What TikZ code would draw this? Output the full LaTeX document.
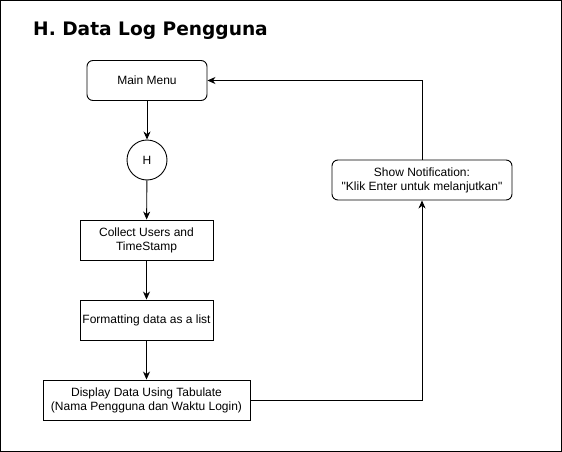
\documentclass[tikz,border=0pt]{standalone}
\usepackage{fontspec}
\setmainfont{Liberation Sans}
\newfontfamily\nodefont{Liberation Sans}
\newfontfamily\titlefont{DejaVu Sans}
\usetikzlibrary{arrows.meta}
\begin{document}
\begin{tikzpicture}[x=1pt,y=-1pt,
  box/.style={draw=black,line width=0.9pt,minimum height=40pt,align=center,inner sep=2pt,font=\nodefont\fontsize{12}{14}\selectfont},
  rbox/.style={box,rounded corners=6pt},
  conn/.style={draw=black,line width=0.9pt,-{Stealth[length=8pt,width=7pt,inset=2.5pt]}}]
\useasboundingbox (0,0) rectangle (562,452);
\draw[line width=1pt] (0.5,0.5) rectangle (561.5,451.5);
\node[anchor=base west,inner sep=0pt,font=\titlefont\bfseries\fontsize{18.6}{20}\selectfont] (title) at (33,36) {H. Data Log Pengguna};
\node[rbox,minimum width=120pt] (menu) at (147,80.5) {Main Menu};
\node[draw=black,line width=0.9pt,circle,minimum size=40pt,inner sep=0pt,font=\nodefont\fontsize{12}{14}\selectfont] (h) at (147,160) {H};
\node[box,minimum width=133pt] (collect) at (146.5,240) {Collect Users and\\TimeStamp};
\node[box,minimum width=133pt] (format) at (146.5,320) {Formatting data as a list};
\node[box,minimum width=207pt] (display) at (146.5,400) {Display Data Using Tabulate\\(Nama Pengguna dan Waktu Login)};
\node[rbox,minimum width=180pt] (notif) at (422,180) {Show Notification:\\"Klik Enter untuk melanjutkan"};
\draw[conn] (menu) -- (h);
\draw[conn] (h) -- (collect);
\draw[conn] (collect) -- (format);
\draw[conn] (format) -- (display);
\draw[conn] (display.east) -| (notif.south);
\draw[conn] (notif.north) |- (menu.east);
\end{tikzpicture}
\end{document}
